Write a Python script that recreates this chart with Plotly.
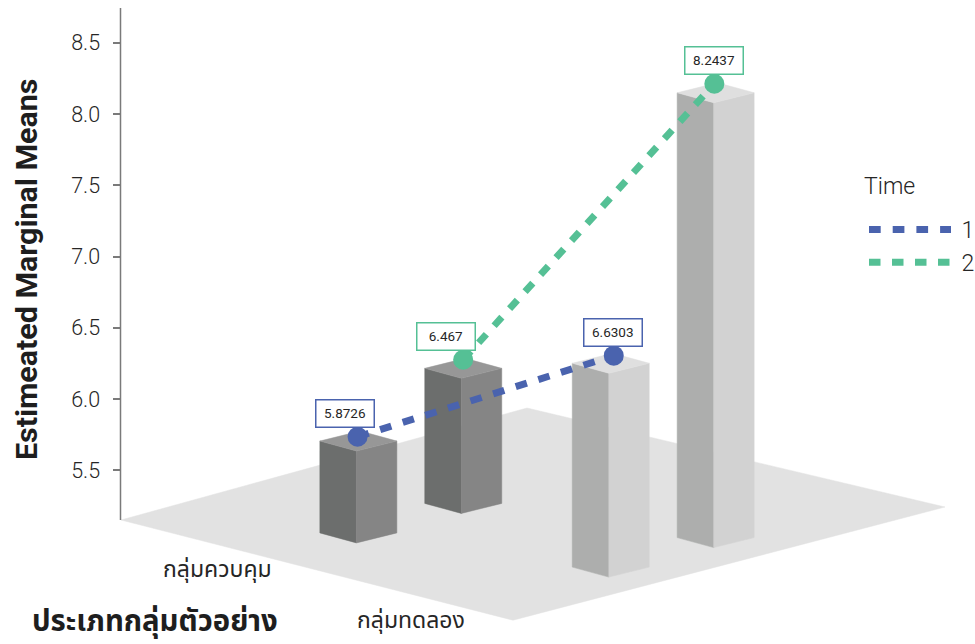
import plotly.graph_objects as go

# Estimated marginal means by sample group and measurement time
group_labels = ["กลุ่มควบคุม", "กลุ่มทดลอง"]
time_labels = ["1", "2"]
time_1_means = [5.8726, 6.6303]
time_2_means = [6.467, 8.2437]
value_ticks = [5.5, 6.0, 6.5, 7.0, 7.5, 8.0, 8.5]

# Page geometry: the plot area fills the page, so x data units equal pixels
WIDTH, HEIGHT = 975, 644
PX_PER_UNIT = 142.5
ROW_AT_7 = 256.7


def value_at(py):
    """Value on the vertical axis that lands on page row py."""
    return 7.0 - (py - ROW_AT_7) / PX_PER_UNIT


def row_of(value):
    return ROW_AT_7 + (7.0 - value) * PX_PER_UNIT


# Oblique floor projection: group and time steps across the floor plane
FLOOR_ORIGIN = (358.35, 532.9)
GROUP_STEP = (252.4, 34.2)
TIME_STEP = (104.9, -29.5)
HALF_WIDTH = 38.5
FRONT_DX, FRONT_DY = -1.9, 10.0

# Vertical and horizontal depth correction for each column, (group, time)
DEPTH_ROW = {(0, 0): 19.4, (0, 1): 27.1, (1, 0): 46.3, (1, 1): 4.3}
DOT_DX = {(0, 0): -0.8, (0, 1): -0.1, (1, 0): 3.0, (1, 1): -1.3}
TOP_DROP = {(0, 0): 4.3, (0, 1): 8.6, (1, 0): 7.6, (1, 1): 9.0}
LABEL_DX = {(0, 0): -12.8, (0, 1): -16.7, (1, 0): -0.3, (1, 1): 0.0}

BLUE, GREEN = "#4a63ae", "#55c095"
TEXT = "#262626"
AXIS = "#7a7a7a"
FLOOR = "#e2e2e2"
FACES = [
    {"left": "#6c6e6d", "right": "#858585", "top": "#979797"},
    {"left": "#adaead", "right": "#d2d2d2", "top": "#dfdfdf"},
]
LATIN = "Roboto, sans-serif"
THAI = "'Noto Sans Thai', 'Noto Sans', 'Open Sans', sans-serif"

means = {0: time_1_means, 1: time_2_means}
colors = {0: BLUE, 1: GREEN}
dash_patterns = {0: "11.7px,12px", 1: "11.5px,11.5px"}

fig = go.Figure()


def polygon(points, color):
    fig.add_trace(go.Scatter(
        x=[p[0] for p in points] + [points[0][0]],
        y=[value_at(p[1]) for p in points] + [value_at(points[0][1])],
        mode="lines", line=dict(width=0.5, color=color), fill="toself",
        fillcolor=color, showlegend=False, hoverinfo="skip"))


# Floor plane
polygon([(121, 520), (527, 408), (945, 507), (513, 620.2)], FLOOR)

# Columns, back to front within each group
dots = {}
for g in range(2):
    for t in range(2):
        key = (g, t)
        cx = FLOOR_ORIGIN[0] + g * GROUP_STEP[0] + t * TIME_STEP[0]
        base = FLOOR_ORIGIN[1] + g * GROUP_STEP[1] + t * TIME_STEP[1]
        dot_row = row_of(means[t][g]) + DEPTH_ROW[key]
        top = dot_row + TOP_DROP[key]
        dots[key] = (cx + DOT_DX[key], means[t][g], dot_row)
        left, right = cx - HALF_WIDTH, cx + HALF_WIDTH
        fx, bx = cx + FRONT_DX, cx - FRONT_DX
        shade = FACES[g]
        polygon([(left, top), (fx, top + FRONT_DY), (fx, base + FRONT_DY), (left, base)], shade["left"])
        polygon([(fx, top + FRONT_DY), (right, top), (right, base), (fx, base + FRONT_DY)], shade["right"])
        polygon([(left, top), (bx, top - FRONT_DY), (right, top), (fx, top + FRONT_DY)], shade["top"])

# Dashed connectors and the legend entries they carry
for t in range(2):
    keys = [(0, t), (1, t)]
    fig.add_trace(go.Scatter(
        x=[dots[k][0] for k in keys],
        y=[value_at(dots[k][2]) for k in keys],
        mode="lines", name="\u00a0" + time_labels[t], legendgroup=time_labels[t],
        line=dict(color=colors[t], width=7, dash=dash_patterns[t]),
        hoverinfo="skip"))

# Round markers with their boxed values
for t in range(2):
    keys = [(0, t), (1, t)]
    fig.add_trace(go.Scatter(
        x=[dots[k][0] for k in keys],
        y=[value_at(dots[k][2]) for k in keys],
        customdata=[dots[k][1] for k in keys],
        hovertemplate="%{customdata}<extra></extra>",
        mode="markers", marker=dict(size=20, color=colors[t]), showlegend=False))
    for k in keys:
        fig.add_annotation(
            x=dots[k][0], y=value_at(dots[k][2]), text=f"{dots[k][1]:g}",
            showarrow=False, xshift=LABEL_DX[k], yshift=23.5,
            width=56.5, height=25.5, bgcolor="white",
            bordercolor=colors[t], borderwidth=1.5, borderpad=0,
            font=dict(family=LATIN, size=13.5, color=TEXT))


def page_text(text, px, py, font, angle=0):
    fig.add_annotation(xref="paper", yref="paper", x=px / WIDTH, y=1 - py / HEIGHT,
                       xanchor="center", yanchor="middle", text=text, textangle=angle,
                       showarrow=False, font=font)


# Axis titles, group labels and the legend heading
page_text("<b>Estimeated Marginal Means</b>", 26, 270,
          dict(family=LATIN, size=30.4, color="#1e1e1e"), angle=-90)
page_text("<b>ประเภทกลุ่มตัวอย่าง</b>", 154.5, 622,
          dict(family=THAI, size=29.3, color="#1e1e1e"))
for label, (px, py) in zip(group_labels, [(217, 570), (410.5, 621)]):
    page_text(label, px, py, dict(family=THAI, size=23, color=TEXT))
page_text("Time", 889.5, 186, dict(family=LATIN, size=23, color=TEXT, weight=300))

fig.update_layout(
    width=WIDTH, height=HEIGHT, margin=dict(l=0, r=0, t=0, b=0, autoexpand=False),
    paper_bgcolor="white", plot_bgcolor="white",
    xaxis=dict(range=[0, WIDTH], visible=False, fixedrange=True),
    yaxis=dict(
        range=[value_at(HEIGHT), value_at(0)], anchor="free", position=120.5 / WIDTH,
        tickmode="array", tickvals=value_ticks, ticktext=[f"{v:.1f}" for v in value_ticks],
        ticks="outside", ticklen=8, tickwidth=1.5, tickcolor=AXIS,
        showgrid=False, zeroline=False, showline=False, fixedrange=True,
        tickfont=dict(family=LATIN, size=21.5, color=TEXT, weight=300), ticklabelstandoff=8),
    shapes=[dict(type="line", xref="x", yref="y", x0=120.5, x1=120.5,
                 y0=value_at(520), y1=value_at(8), line=dict(color=AXIS, width=1.5))],
    legend=dict(x=864 / WIDTH, y=1 - 208 / HEIGHT, xanchor="left", yanchor="top",
                font=dict(family=LATIN, size=23, color=TEXT, weight=300),
                itemwidth=82, bgcolor="rgba(0,0,0,0)", tracegroupgap=0),
    showlegend=True,
)

fig.write_html("out.html", config={"displayModeBar": False})
